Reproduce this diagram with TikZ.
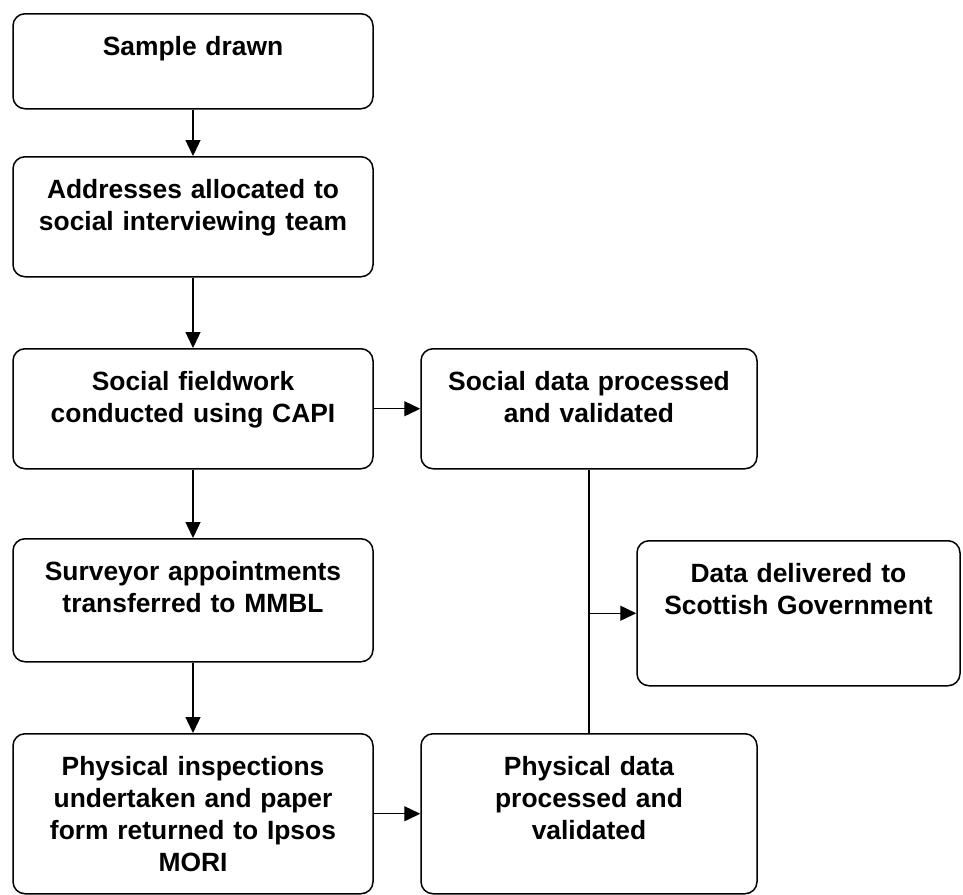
\documentclass[tikz,border=0pt]{standalone}
\usepackage{fontspec}
\setmainfont{Liberation Sans}
\usetikzlibrary{arrows.meta}

\tikzset{
  stage/.style={draw, line width=1.5pt, rounded corners=12pt, anchor=north, align=center,
    font=\bfseries\fontsize{26.4}{32}\selectfont, inner xsep=10pt, inner ysep=0pt,
    text width=340pt, text height=41.5pt, text depth=78.5pt},
  link/.style={line width=1.4pt, -{Triangle[length=16pt,width=15pt]}}
}

\begin{document}
\begin{tikzpicture}[x=1pt,y=-1pt]
            \useasboundingbox (0,0) rectangle (963,894);
            \node[stage,text depth=53.5pt] (sample) at (193,13) {Sample drawn};
            \node[stage] (addresses) at (193,156) {Addresses allocated to\\social interviewing team};
            \node[stage] (fieldwork) at (193,348) {Social fieldwork\\conducted using CAPI};
            \node[stage,text depth=81.5pt] (surveyor) at (193,538) {Surveyor appointments\\transferred to MMBL};
            \node[stage,text depth=118.5pt] (inspect) at (193,733) {Physical inspections\\undertaken and paper\\form returned to Ipsos\\MORI};
            \node[stage,text width=316pt] (socialdata) at (589,348) {Social data processed\\and validated};
            \node[stage,text width=316pt,text depth=118.5pt] (physdata) at (589,733) {Physical data\\processed and\\validated};
            \node[stage,text width=303pt,text depth=103.5pt] (delivered) at (798.5,540) {Data delivered to\\Scottish Government};
            \draw[link] (sample) -- (addresses);
            \draw[link] (addresses) -- (fieldwork);
            \draw[link] (fieldwork) -- (surveyor);
            \draw[link] (surveyor) -- (inspect);
            \draw[link] (fieldwork) -- (socialdata);
            \draw[link] (inspect.east) -- (inspect.east -| physdata.west);
            \draw[line width=1.4pt] (socialdata) -- (physdata);
            \draw[link] (socialdata.south |- delivered.west) -- (delivered.west);
        \end{tikzpicture}
\end{document}
